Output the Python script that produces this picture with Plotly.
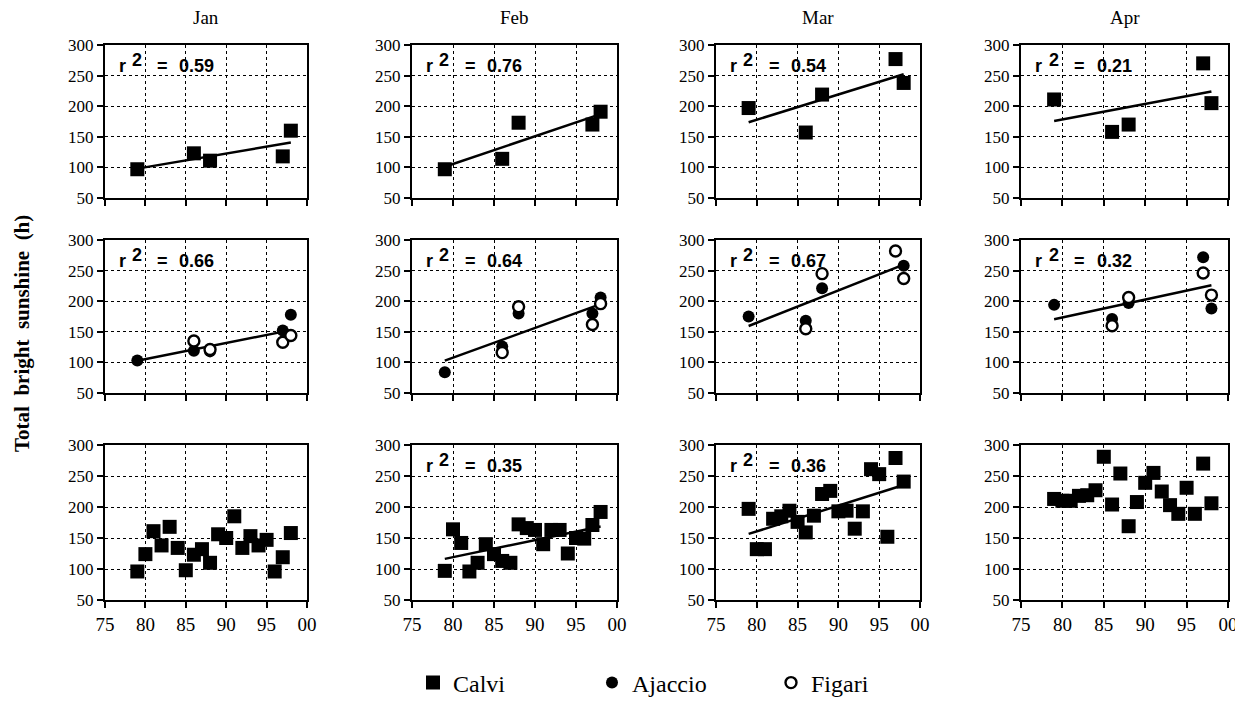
import numpy as np
import plotly.graph_objects as go

# ---------------- data ----------------
months = ["Jan", "Feb", "Mar", "Apr"]
short_years = [79, 86, 88, 97, 98]
all_years = list(range(79, 99))

# Row 1: Calvi, selected years
calvi_short_jan = [97, 123, 111, 118, 160]
calvi_short_feb = [97, 114, 173, 170, 191]
calvi_short_mar = [197, 157, 219, 277, 238]
calvi_short_apr = [211, 158, 170, 270, 205]

# Row 2: Ajaccio (filled) and Figari (open), selected years
ajaccio_jan = [103, 119, 118, 152, 178]
ajaccio_feb = [84, 126, 180, 180, 206]
ajaccio_mar = [175, 168, 221, None, 258]
ajaccio_apr = [194, 171, 197, 272, 188]
figari_jan = [None, 135, 121, 133, 144]
figari_feb = [None, 116, 191, 162, 196]
figari_mar = [None, 155, 245, 282, 237]
figari_apr = [None, 160, 206, 246, 210]

# Row 3: Calvi, all years 1979-1998
calvi_all_jan = [96, 124, 161, 138, 168, 134, 98, 123, 132, 110,
                 156, 150, 185, 134, 153, 138, 147, 96, 119, 158]
calvi_all_feb = [97, 164, 142, 96, 110, 140, 124, 113, 110, 172,
                 166, 163, 140, 163, 163, 125, 150, 149, 171, 192]
calvi_all_mar = [197, 132, 132, 181, 185, 194, 176, 159, 186, 221,
                 226, 193, 194, 165, 193, 261, 253, 152, 279, 241]
calvi_all_apr = [213, 210, 210, 218, 219, 227, 281, 204, 254, 169,
                 208, 239, 255, 225, 203, 189, 231, 189, 270, 206]

r2_row1 = ["0.59", "0.76", "0.54", "0.21"]
r2_row2 = ["0.66", "0.64", "0.67", "0.32"]
r2_row3 = [None, "0.35", "0.36", None]

x_tickvals = [75, 80, 85, 90, 95, 100]
x_ticktext = ["75", "80", "85", "90", "95", "00"]
y_tickvals = [50, 100, 150, 200, 250, 300]

# ---------------- layout geometry ----------------
OFF = 8
FW, FH = 1243 - OFF, 701 - OFF


def fx(X):
    return (X - OFF) / FW


def fy(Y):
    return 1 - (Y - OFF) / FH


col_px = [(105, 307), (412, 617), (716, 920), (1021, 1228)]
row_px = [(45, 198), (240, 393), (445, 600)]

SERIF = "Liberation Serif"
SANS = "Liberation Sans"

fig = go.Figure()
layout = {}

row1 = [calvi_short_jan, calvi_short_feb, calvi_short_mar, calvi_short_apr]
row2a = [ajaccio_jan, ajaccio_feb, ajaccio_mar, ajaccio_apr]
row2f = [figari_jan, figari_feb, figari_mar, figari_apr]
row3 = [calvi_all_jan, calvi_all_feb, calvi_all_mar, calvi_all_apr]

square = dict(symbol="square", size=14, color="black", line=dict(width=0))
filled = dict(symbol="circle", size=12, color="black", line=dict(width=0))
opened = dict(symbol="circle", size=11, color="white", line=dict(width=2.4, color="black"))


def fit_line(xs, ys):
    pts = [(x, y) for x, y in zip(xs, ys) if y is not None]
    px = np.array([p[0] for p in pts], float)
    py = np.array([p[1] for p in pts], float)
    slope, icpt = np.polyfit(px, py, 1)
    xx = np.array([px.min(), px.max()])
    return xx, slope * xx + icpt


annotations = []


def add_r2(label, xa, ya):
    f = dict(family=SANS, size=18, color="black")
    annotations.append(dict(x=76.5, y=266, xref=xa, yref=ya, xanchor="left",
                            yanchor="middle", text="<b>r</b>", showarrow=False, font=f))
    annotations.append(dict(x=78.1, y=276, xref=xa, yref=ya, xanchor="left",
                            yanchor="middle", text="<b>2</b>", showarrow=False, font=f))
    annotations.append(dict(x=81.2, y=266, xref=xa, yref=ya, xanchor="left",
                            yanchor="middle", text="<b>=</b>", showarrow=False, font=f))
    annotations.append(dict(x=83.9, y=266, xref=xa, yref=ya, xanchor="left",
                            yanchor="middle", text=f"<b>{label}</b>", showarrow=False, font=f))


for r in range(3):
    for c in range(4):
        idx = r * 4 + c + 1
        xa = "x" if idx == 1 else f"x{idx}"
        ya = "y" if idx == 1 else f"y{idx}"
        x0, x1 = col_px[c]
        y0, y1 = row_px[r]
        layout["xaxis" if idx == 1 else f"xaxis{idx}"] = dict(
            domain=[fx(x0), fx(x1)], anchor=ya, range=[75, 100],
            tickvals=x_tickvals, ticktext=x_ticktext,
            showticklabels=(r == 2), ticks="outside", ticklen=6, tickwidth=2,
            tickcolor="black", showline=True, linecolor="black", linewidth=2,
            mirror=True, showgrid=True, gridcolor="black", gridwidth=1,
            griddash="dot", zeroline=False, automargin=False,
            tickfont=dict(family=SERIF, size=19, color="black"),
        )
        layout["yaxis" if idx == 1 else f"yaxis{idx}"] = dict(
            domain=[fy(y1), fy(y0)], anchor=xa, range=[50, 300],
            tickvals=y_tickvals, ticks="outside", ticklen=6, tickwidth=2,
            tickcolor="black", showline=True, linecolor="black", linewidth=2,
            mirror=True, showgrid=True, gridcolor="black", gridwidth=1,
            griddash="dot", zeroline=False, automargin=False,
            tickfont=dict(family=SERIF, size=17, color="black"),
        )

        if r == 0:
            ys = row1[c]
            xx, yy = fit_line(short_years, ys)
            fig.add_trace(go.Scatter(x=xx, y=yy, mode="lines", xaxis=xa, yaxis=ya,
                                     line=dict(color="black", width=2.5), showlegend=False,
                                     hoverinfo="skip"))
            fig.add_trace(go.Scatter(x=short_years, y=ys, mode="markers", xaxis=xa, yaxis=ya,
                                     marker=square, name="Calvi", legendgroup="calvi",
                                     showlegend=(c == 0)))
            label = r2_row1[c]
        elif r == 1:
            ya_vals = row2a[c]
            fi_vals = row2f[c]
            xx, yy = fit_line(short_years + short_years, ya_vals + fi_vals)
            fig.add_trace(go.Scatter(x=xx, y=yy, mode="lines", xaxis=xa, yaxis=ya,
                                     line=dict(color="black", width=2.5), showlegend=False,
                                     hoverinfo="skip"))
            fig.add_trace(go.Scatter(x=short_years, y=ya_vals, mode="markers", xaxis=xa, yaxis=ya,
                                     marker=filled, name="Ajaccio", legendgroup="ajaccio",
                                     showlegend=(c == 0)))
            fig.add_trace(go.Scatter(x=short_years, y=fi_vals, mode="markers", xaxis=xa, yaxis=ya,
                                     marker=opened, name="Figari", legendgroup="figari",
                                     showlegend=(c == 0)))
            label = r2_row2[c]
        else:
            ys = row3[c]
            label = r2_row3[c]
            if label is not None:
                xx, yy = fit_line(all_years, ys)
                fig.add_trace(go.Scatter(x=xx, y=yy, mode="lines", xaxis=xa, yaxis=ya,
                                         line=dict(color="black", width=2.5), showlegend=False,
                                         hoverinfo="skip"))
            fig.add_trace(go.Scatter(x=all_years, y=ys, mode="markers", xaxis=xa, yaxis=ya,
                                     marker=square, name="Calvi", legendgroup="calvi",
                                     showlegend=False))

        if label is not None:
            add_r2(label, xa, ya)

# column titles
for c, m in enumerate(months):
    x0, x1 = col_px[c]
    annotations.append(dict(
        x=fx((x0 + x1) / 2), y=fy(17), xref="paper", yref="paper",
        xanchor="center", yanchor="middle", text=m, showarrow=False,
        font=dict(family=SERIF, size=19, color="black"),
    ))

# y axis title
annotations.append(dict(
    x=fx(22), y=fy(334), xref="paper", yref="paper", xanchor="center",
    yanchor="middle",
    text="<b>Total&nbsp;&nbsp;bright&nbsp;&nbsp;sunshine&nbsp;&nbsp;(h)</b>",
    textangle=-90, showarrow=False,
    font=dict(family=SERIF, size=21, color="black"),
))

fig.update_layout(
    **layout,
    annotations=annotations,
    width=FW, height=FH,
    margin=dict(l=0, r=0, t=0, b=0, pad=0, autoexpand=False),
    paper_bgcolor="white", plot_bgcolor="white",
    showlegend=True,
    legend=dict(orientation="h", x=fx(413), y=fy(683), xanchor="left",
                yanchor="middle", entrywidth=134, entrywidthmode="pixels",
                font=dict(family=SERIF, size=24, color="black"),
                bgcolor="rgba(0,0,0,0)", itemsizing="trace"),
)

fig.write_html("out.html")
